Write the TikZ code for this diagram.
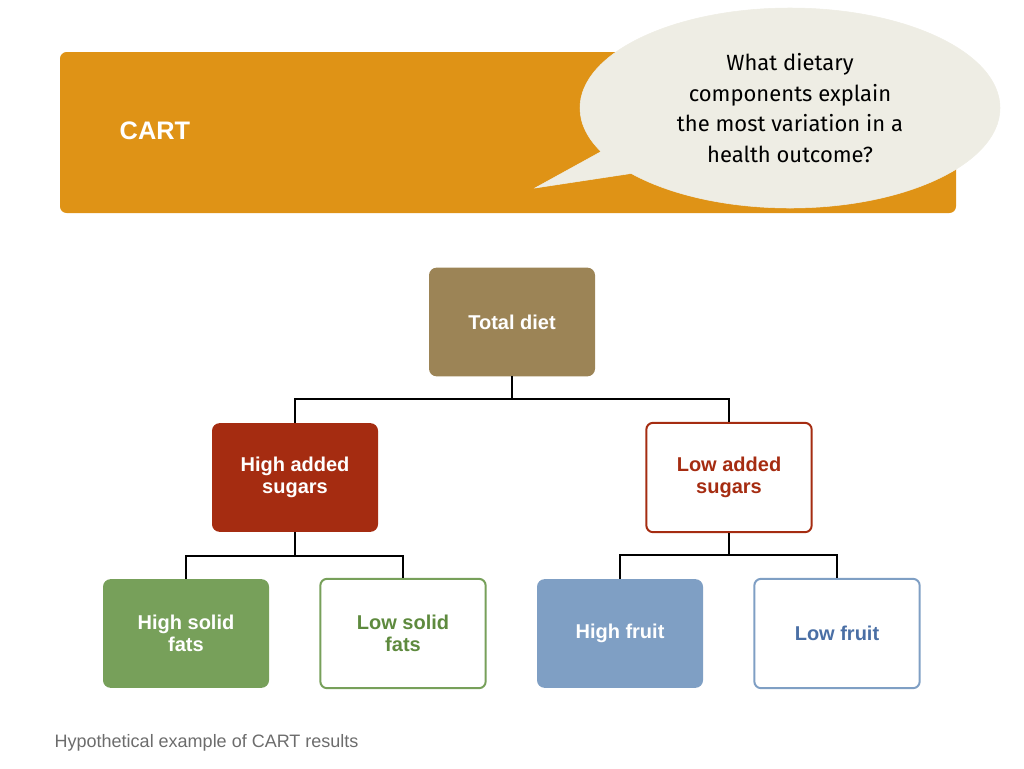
\documentclass[tikz,border=0pt]{standalone}
\usepackage{fontspec}
\setmainfont{Liberation Sans}
\newfontfamily\bubfont{Fira Sans}
\usetikzlibrary{shapes.callouts}
\definecolor{orng}{HTML}{DF9316}
\definecolor{bub}{HTML}{EEEDE4}
\definecolor{brn}{HTML}{9C8456}
\definecolor{rd}{HTML}{A52C11}
\definecolor{grn}{HTML}{77A05A}
\definecolor{grnt}{HTML}{5E8A3E}
\definecolor{blu}{HTML}{7F9FC4}
\definecolor{blut}{HTML}{4A6FA5}
\tikzset{
 box/.style={rounded corners=5pt,minimum width=123pt,minimum height=80pt,align=center,font=\bfseries\fontsize{15}{17}\selectfont,line width=1.5pt},
 con/.style={line width=1.3pt}
}
\begin{document}
\begin{tikzpicture}[x=0.75pt,y=-0.75pt]
\useasboundingbox (0,0) rectangle (1024,768);
\fill[orng,rounded corners=5pt] (60,52) rectangle (956,213);
\node[anchor=west,text=white,font=\bfseries\fontsize{19}{22}\selectfont] (cart) at (115,131) {CART};
\node[ellipse callout,fill=bub,draw=bub,minimum width=315pt,minimum height=150pt,callout absolute pointer={(535,188)},align=center,font=\bubfont\fontsize{16.5}{23}\selectfont] (q) at (790,108) {What dietary\\components explain\\the most variation in a\\health outcome?};
\node[box,fill=brn,draw=brn,text=white] (tot) at (512,322) {Total diet};
\node[box,fill=rd,draw=rd,text=white] (has) at (295,477.5) {High added\\sugars};
\node[box,draw=rd,text=rd,minimum width=124pt,minimum height=82pt] (las) at (729,477.5) {Low added\\sugars};
\node[box,fill=grn,draw=grn,text=white] (hsf) at (186,633.5) {High solid\\fats};
\node[box,draw=grn,text=grnt,minimum width=124pt,minimum height=82pt] (lsf) at (403,633.5) {Low solid\\fats};
\node[box,fill=blu,draw=blu,text=white] (hf) at (620,633.5) {High fruit};
\node[box,draw=blu,text=blut,minimum width=124pt,minimum height=82pt] (lf) at (837,633.5) {Low fruit};
\draw[con] (tot.south) -- ++(0,23) -| (has.north);
\draw[con] (tot.south) ++(0,23) -| (las.north);
\draw[con] (has.south) -- ++(0,24) -| (hsf.north);
\draw[con] (has.south) ++(0,24) -| (lsf.north);
\draw[con] (las.south) -- ++(0,22) -| (hf.north);
\draw[con] (las.south) ++(0,22) -| (lf.north);
\node[anchor=west,text=gray!85!black,font=\fontsize{13.5}{16}\selectfont] (cap) at (50,743) {Hypothetical example of CART results};
\end{tikzpicture}
\end{document}
